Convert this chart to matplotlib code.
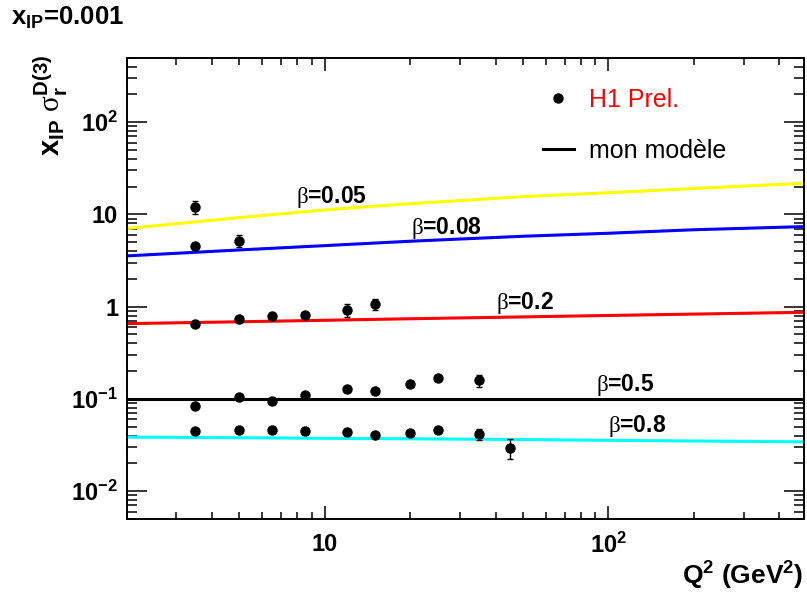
import matplotlib
matplotlib.use("Agg")
import matplotlib.pyplot as plt
import numpy as np
from matplotlib.ticker import FixedLocator, FixedFormatter, NullFormatter, LogLocator

plt.rcParams['font.family'] = ['Liberation Sans', 'DejaVu Sans']
plt.rcParams['mathtext.fontset'] = 'custom'
plt.rcParams['mathtext.rm'] = 'Liberation Sans:bold'
plt.rcParams['mathtext.it'] = 'Liberation Sans:bold'
plt.rcParams['mathtext.bf'] = 'Liberation Sans:bold'
plt.rcParams['mathtext.sf'] = 'Liberation Serif'
plt.rcParams['mathtext.default'] = 'rm'

# H1 preliminary points, x_IP = 0.001
q2_005 = [3.5]
sig_005 = [12.1]
err_005 = [2.0]

q2_008 = [3.5, 5.0]
sig_008 = [4.55, 5.2]
err_008 = [0.3, 0.8]

q2_02 = [3.5, 5.0, 6.5, 8.5, 12, 15]
sig_02 = [0.65, 0.74, 0.79, 0.81, 0.93, 1.07]
err_02 = [0.03, 0.03, 0.03, 0.03, 0.15, 0.15]

q2_05 = [3.5, 5.0, 6.5, 8.5, 12, 15, 20, 25, 35]
sig_05 = [0.084, 0.105, 0.095, 0.111, 0.127, 0.123, 0.146, 0.168, 0.159]
err_05 = [0.005, 0.005, 0.005, 0.005, 0.007, 0.006, 0.006, 0.008, 0.025]

q2_08 = [3.5, 5.0, 6.5, 8.5, 12, 15, 20, 25, 35, 45]
sig_08 = [0.045, 0.0462, 0.0455, 0.045, 0.0443, 0.0404, 0.0425, 0.046, 0.0414, 0.0297]
err_08 = [0.002, 0.002, 0.002, 0.002, 0.003, 0.002, 0.002, 0.002, 0.0055, 0.0075]

# model curves
q2_model = [2, 5, 10, 20, 50, 100, 200, 490]
mod_005 = [7.03, 9.25, 11.2, 13.1, 15.6, 17.2, 19.1, 21.8]
mod_008 = [3.55, 4.12, 4.59, 5.12, 5.8, 6.25, 6.82, 7.38]
mod_02 = [0.655, 0.686, 0.712, 0.74, 0.775, 0.803, 0.831, 0.869]
mod_05 = [0.1, 0.1, 0.1, 0.1, 0.1, 0.1, 0.1, 0.1]
mod_08 = [0.0386, 0.038, 0.0374, 0.037, 0.0363, 0.0356, 0.035, 0.0343]

betas = ['0.05', '0.08', '0.2', '0.5', '0.8']
colors = ['#ffff00', '#0000ff', '#ff0000', '#000000', '#00ffff']
# label anchor (Q2, value) for each beta
label_pos = [(7.93, 15.6), (20.2, 7.14), (40.2, 1.09), (90.5, 0.1416), (99.4, 0.0503)]

fig = plt.figure(figsize=(8.07, 5.97), dpi=100)
ax = fig.add_axes([0.1568, 0.1307, 0.8398, 0.7727])
ax.set_xscale('log')
ax.set_yscale('log')
ax.set_xlim(2, 490)
ax.set_ylim(0.005, 500)

models = [mod_005, mod_008, mod_02, mod_05, mod_08]
model_lines = []
for m, c in zip(models, colors):
    ln, = ax.plot(q2_model, m, color=c, lw=2.2, zorder=2)
    model_lines.append(ln)

data = [(q2_005, sig_005, err_005), (q2_008, sig_008, err_008),
        (q2_02, sig_02, err_02), (q2_05, sig_05, err_05), (q2_08, sig_08, err_08)]
conts = []
for x, y, e in data:
    cont = ax.errorbar(x, y, yerr=e, fmt='o', color='black', ms=6.5,
                       elinewidth=1.0, capsize=2.5, capthick=1.0, zorder=3)
    conts.append(cont)

for b, (lx, ly) in zip(betas, label_pos):
    ax.text(lx, ly, r'$\mathsf{\beta}$=' + b, fontsize=16.5, fontweight='bold',
            ha='left', va='center')

leg = ax.legend([conts[0].lines[0], model_lines[3]], ['H1 Prel.', 'mon modèle'],
                loc='upper left', bbox_to_anchor=(0.614, 0.935), frameon=False,
                fontsize=18, numpoints=1, handlelength=1.24, handletextpad=0.6,
                labelspacing=1.1, borderpad=0, borderaxespad=0)
leg.get_texts()[0].set_color('red')

# axis ticks
ax.xaxis.set_major_locator(FixedLocator([10, 100]))
ax.xaxis.set_major_formatter(FixedFormatter(['10', '10$^{2}$']))
ax.xaxis.set_minor_locator(LogLocator(base=10, subs=np.arange(2, 10)))
ax.xaxis.set_minor_formatter(NullFormatter())
ax.yaxis.set_major_locator(FixedLocator([1e-2, 1e-1, 1, 10, 100]))
ax.yaxis.set_major_formatter(FixedFormatter(['10$^{-2}$', '10$^{-1}$', '1', '10', '10$^{2}$']))
ax.yaxis.set_minor_locator(LogLocator(base=10, subs=np.arange(2, 10)))
ax.yaxis.set_minor_formatter(NullFormatter())

ax.tick_params(axis='x', which='major', direction='in', length=9.4, width=1.1,
               top=True, labelsize=17, pad=10)
ax.tick_params(axis='x', which='minor', direction='in', length=4.7, width=1.1, top=True)
ax.tick_params(axis='y', which='major', direction='in', length=14.4, width=1.1,
               right=True, labelsize=17, pad=6)
ax.tick_params(axis='y', which='minor', direction='in', length=7.2, width=1.1, right=True)
for lbl in ax.get_xticklabels() + ax.get_yticklabels():
    lbl.set_fontweight('bold')
for sp in ax.spines.values():
    sp.set_linewidth(1.4)

fig.text(0.995, 0.02, r'Q$^{2}$ (GeV$^{2}$)', fontsize=19, fontweight='bold',
         ha='right', va='baseline')
fig.text(0.0632, 0.908, r'x$_{IP}$ $\mathsf{\sigma}_{r}^{D(3)}$', fontsize=21,
         fontweight='bold', rotation=90, ha='center', va='top')
fig.text(0.014, 0.958, r'x$_{IP}$=0.001', fontsize=18.5, fontweight='bold',
         ha='left', va='baseline')

fig.savefig('out.png', dpi=100)
